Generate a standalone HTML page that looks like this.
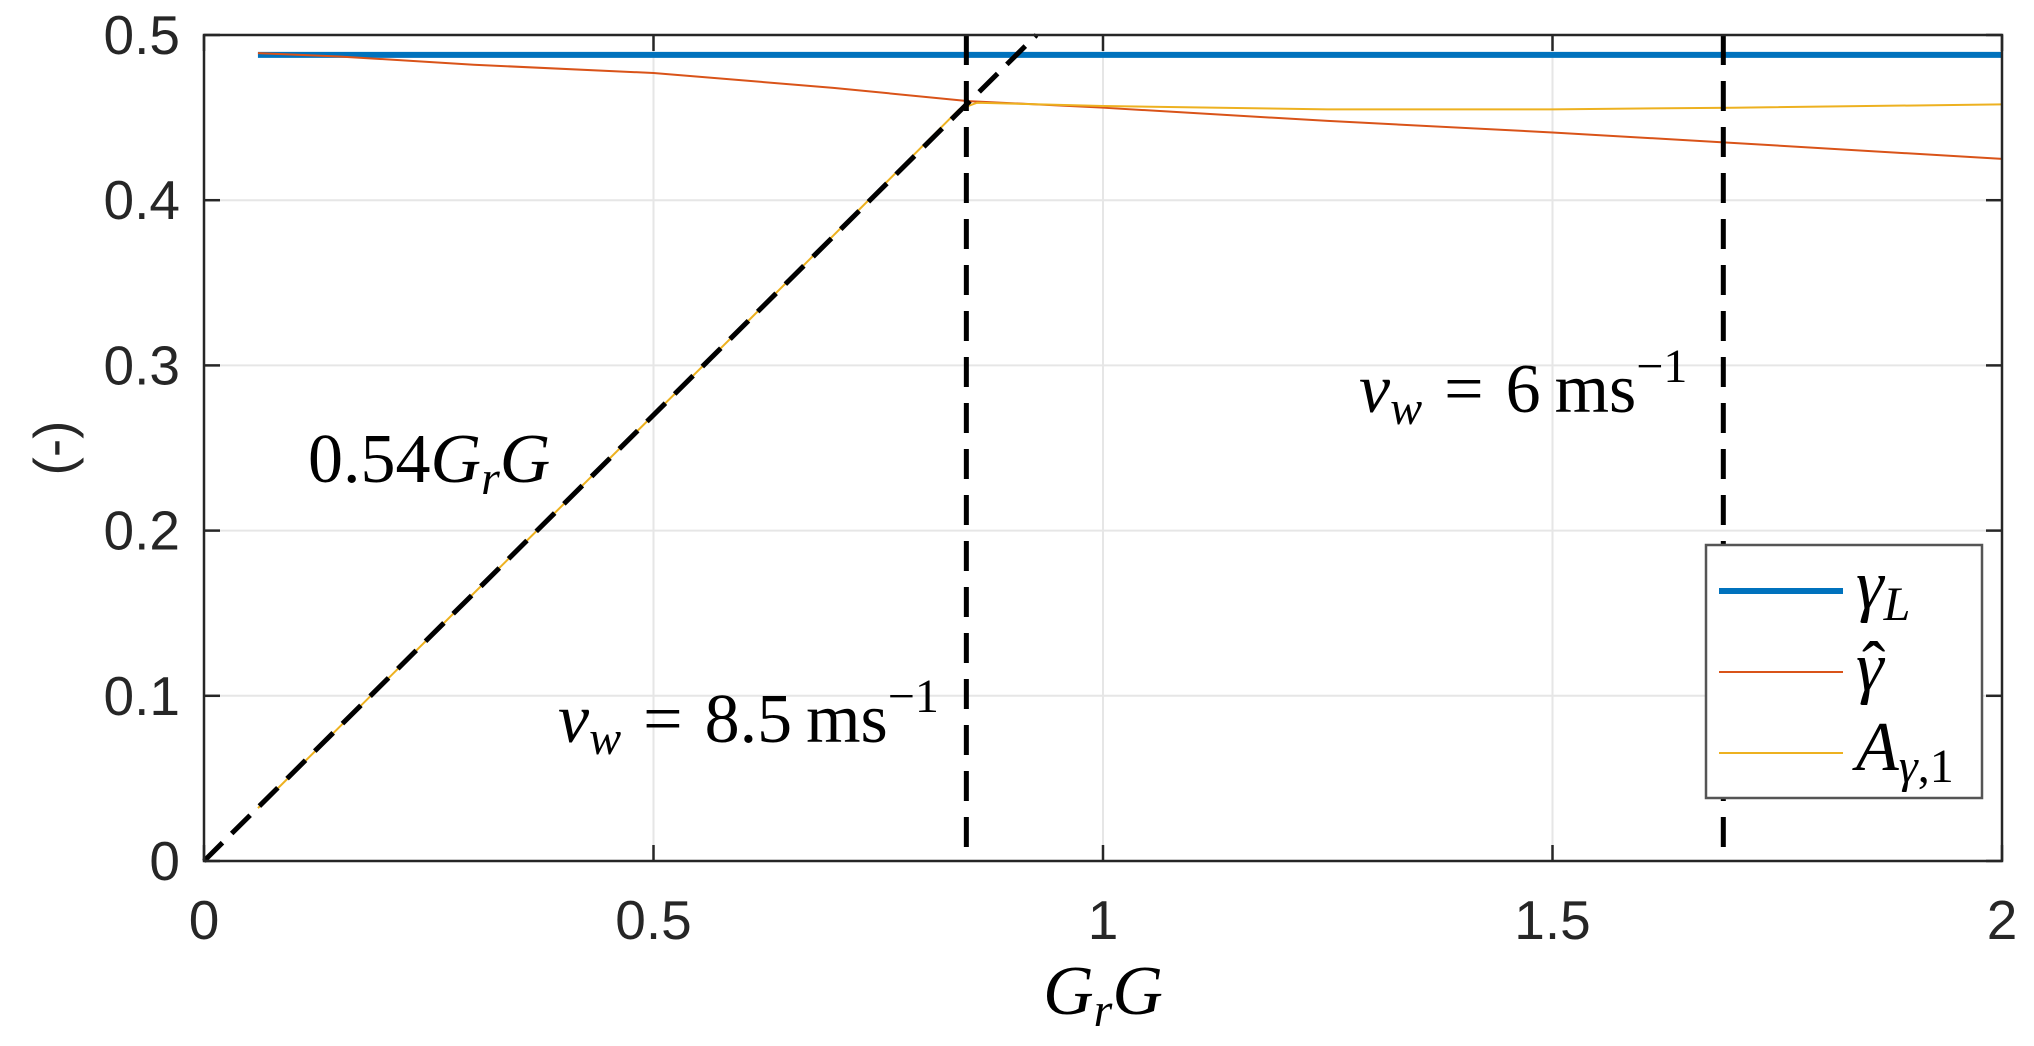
<!DOCTYPE html>
<html><head><meta charset="utf-8"><style>
html,body{margin:0;padding:0;background:#fff;}
svg{display:block;}
.tick{font-family:"Liberation Sans",sans-serif;font-size:55px;fill:#262626;}
.math{font-family:"Liberation Serif",serif;font-size:70px;fill:#000;}
</style></head><body>
<svg id="chart" width="2034" height="1046" viewBox="0 0 2034 1046" xmlns="http://www.w3.org/2000/svg">
<g id="grid"></g>
<g id="series"></g>
<g id="axes"></g>
<text class="math" x="308" y="482">0.54<tspan font-style="italic">G</tspan><tspan font-style="italic" font-size="48" dy="12">r</tspan><tspan font-style="italic" dy="-12">G</tspan></text>
<text class="math" x="558" y="742"><tspan font-style="italic">v</tspan><tspan font-style="italic" font-size="48" dy="12">w</tspan><tspan dy="-12" dx="22">=</tspan><tspan dx="22">8.5</tspan><tspan dx="14">ms</tspan><tspan font-size="48" dy="-30">−1</tspan></text>
<text class="math" x="1359" y="412"><tspan font-style="italic">v</tspan><tspan font-style="italic" font-size="48" dy="12">w</tspan><tspan dy="-12" dx="22">=</tspan><tspan dx="22">6</tspan><tspan dx="14">ms</tspan><tspan font-size="48" dy="-30">−1</tspan></text>
<text class="math" x="1103" y="1014" text-anchor="middle"><tspan font-style="italic">G</tspan><tspan font-style="italic" font-size="48" dy="12">r</tspan><tspan font-style="italic" dy="-12">G</tspan></text>
<text class="tick" transform="translate(72,448) rotate(-90)" text-anchor="middle">(-)</text>
<g>
<rect x="1706" y="545" width="276" height="253" fill="#fff" stroke="#555" stroke-width="2.5"/>
<line x1="1719" y1="591" x2="1843" y2="591" stroke="#0072BD" stroke-width="6"/>
<text class="math" x="1856" y="608"><tspan font-style="italic">γ</tspan><tspan font-style="italic" font-size="48" dy="12">L</tspan></text>
<line x1="1719" y1="672" x2="1843" y2="672" stroke="#D95319" stroke-width="2"/>
<text class="math" x="1856" y="690" font-style="italic">γ</text>
<text class="math" x="1862" y="690" font-size="56">ˆ</text>
<line x1="1719" y1="753" x2="1843" y2="753" stroke="#EDB120" stroke-width="2"/>
<text class="math" x="1856" y="770"><tspan font-style="italic">A</tspan><tspan font-size="48" dy="12"><tspan font-style="italic">γ</tspan>,1</tspan></text>
</g>
</svg>
<script>
const xTicks=[0,0.5,1,1.5,2];
const xTickLabels=["0","0.5","1","1.5","2"];
const yTicks=[0,0.1,0.2,0.3,0.4,0.5];
const yTickLabels=["0","0.1","0.2","0.3","0.4","0.5"];
const gammaLX=[0.06,2];
const gammaLY=[0.488,0.488];
const gammaHatX=[0.06,0.15,0.3,0.5,0.7,0.85,1.0,1.25,1.5,1.69,2.0];
const gammaHatY=[0.489,0.487,0.482,0.477,0.468,0.460,0.456,0.448,0.441,0.435,0.425];
const aX=[0.06,0.3,0.6,0.84,0.86,1.0,1.25,1.5,1.7,2.0];
const aY=[0.032,0.162,0.324,0.455,0.459,0.457,0.455,0.455,0.456,0.458];
const slopeX=[0,0.926];
const slopeY=[0,0.5];
const vLinesX=[0.848,1.69];
const L=204,R=2002,T=35,B=861;
const sx=v=>L+(v-0)/(2-0)*(R-L);
const sy=v=>B-(v-0)/(0.5-0)*(B-T);
const NS="http://www.w3.org/2000/svg";
function mk(tag,attrs,parent){const e=document.createElementNS(NS,tag);for(const k in attrs)e.setAttribute(k,attrs[k]);parent.appendChild(e);return e;}
const grid=document.getElementById('grid'),series=document.getElementById('series'),axes=document.getElementById('axes');
mk('rect',{x:L,y:T,width:R-L,height:B-T,fill:'#fff'},grid);
xTicks.forEach((t,i)=>{
 const g=mk('line',{x1:sx(t),x2:sx(t),y1:T,y2:B,stroke:'#e6e6e6','stroke-width':2},grid);
 
 
 mk('line',{x1:sx(t),x2:sx(t),y1:B,y2:B-16,stroke:'#262626','stroke-width':2.5},axes);
 mk('line',{x1:sx(t),x2:sx(t),y1:T,y2:T+16,stroke:'#262626','stroke-width':2.5},axes);
 const tx=mk('text',{x:sx(t),y:B+78,'text-anchor':'middle',class:'tick'},axes);
 tx.textContent=xTickLabels[i];
 
 
});
yTicks.forEach((t,i)=>{
 const g=mk('line',{x1:L,x2:R,y1:sy(t),y2:sy(t),stroke:'#e6e6e6','stroke-width':2},grid);
 
 
 mk('line',{x1:L,x2:L+16,y1:sy(t),y2:sy(t),stroke:'#262626','stroke-width':2.5},axes);
 mk('line',{x1:R,x2:R-16,y1:sy(t),y2:sy(t),stroke:'#262626','stroke-width':2.5},axes);
 const tx=mk('text',{x:L-24,y:sy(t)+19,'text-anchor':'end',class:'tick'},axes);
 tx.textContent=yTickLabels[i];
 
 
});
const fr=mk('rect',{x:L,y:T,width:R-L,height:B-T,fill:'none',stroke:'#262626','stroke-width':2.5},axes);


function poly(xs,ys,attrs,name){
 const p=mk('polyline',Object.assign({points:xs.map((x,i)=>sx(x)+','+sy(ys[i])).join(' '),fill:'none'},attrs),series);
 
 
}
poly(gammaLX,gammaLY,{stroke:'#0072BD','stroke-width':6},'gamma-l-line');
poly(gammaHatX,gammaHatY,{stroke:'#D95319','stroke-width':2},'gamma-hat-line');
poly(aX,aY,{stroke:'#EDB120','stroke-width':2},'a-gamma-1-line');
poly(slopeX,slopeY,{stroke:'#000','stroke-width':5,'stroke-dasharray':'26 13'},'slope-dashed-line');
vLinesX.forEach(v=>{
 const l=mk('line',{x1:sx(v),x2:sx(v),y1:T,y2:B,stroke:'#000','stroke-width':5,'stroke-dasharray':'30 16'},series);
 
 
});
</script>
</body></html>
